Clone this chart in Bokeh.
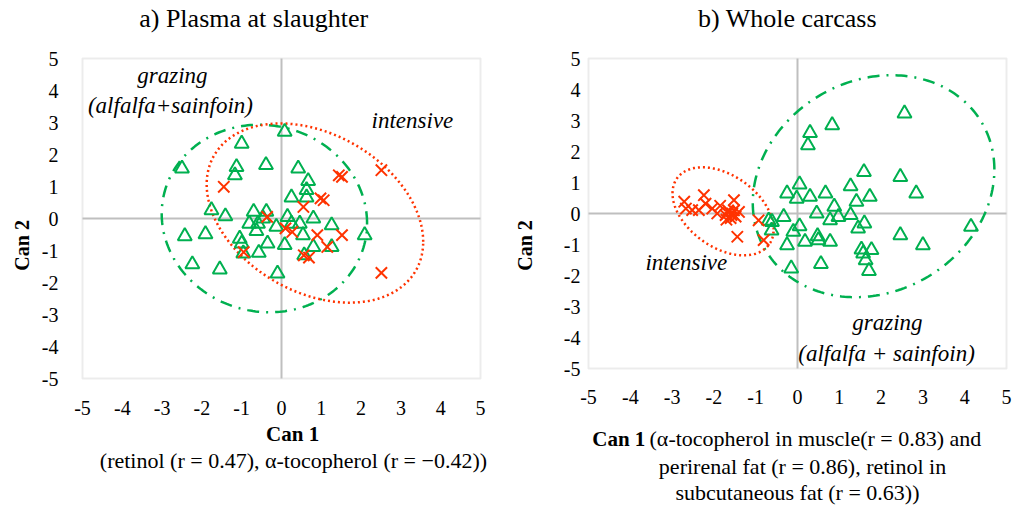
import numpy as np
from bokeh.plotting import figure
from bokeh.models import Range1d, FixedTicker, Label, BoxAnnotation
from bokeh.layouts import row
from bokeh.embed import file_html
from bokeh.resources import INLINE

GREEN = "#00B050"
RED = "#FF3300"
GRAY = "#BFBFBF"
FONT = "Liberation Serif"

ticks = [-5, -4, -3, -2, -1, 0, 1, 2, 3, 4, 5]
tick_labels = {t: str(t) for t in ticks}

# ---- a) Plasma at slaughter ----
a_graz_x = [0.08, -1.0, -2.5, -1.13, -1.17, -0.39, 0.42, 0.67, 0.63, 0.25, 0.63, -1.76, -1.41,
            -0.70, -0.38, -0.81, -0.59, -0.46, -0.63, -0.13, 0.15, 0.25, 0.46, 0.80, 1.26, 2.09,
            0.54, 0.08, -1.05, -1.0, -0.35, -0.96, -0.57, 0.80, 1.26, 0.57, -2.43, -1.91, -2.24,
            -1.55, -0.10]
a_graz_y = [2.71, 2.34, 1.56, 1.61, 1.35, 1.67, 1.56, 1.17, 0.89, 0.66, 0.66, 0.26, 0.07,
            0.21, 0.21, -0.16, -0.16, 0.0, -0.39, -0.26, 0.05, -0.16, -0.16, 0.0, -0.21, -0.52,
            -0.52, -0.83, -0.63, -0.78, -0.78, -1.09, -1.07, -0.89, -0.89, -1.15, -0.55, -0.49,
            -1.43, -1.59, -1.72]
a_int_x = [-1.45, 1.44, 1.52, 2.51, 0.98, 1.06, 0.55, -0.36, 0.10, 0.27, 0.90, 1.52, 1.15,
           0.56, 0.69, 2.51, -0.95]
a_int_y = [0.99, 1.35, 1.30, 1.51, 0.63, 0.57, 0.36, 0.05, -0.31, -0.42, -0.52, -0.52, -0.89,
           -1.15, -1.22, -1.70, -1.05]

# ---- b) Whole carcass ----
b_graz_x = [2.56, 0.83, 0.30, 0.25, 1.59, 2.46, 2.84, 0.05, -0.25, -0.02, 0.30, 0.67, 1.27,
            1.73, 1.41, 0.88, 0.46, 0.98, 0.78, 1.27, 1.60, 1.45, -0.33, -0.61, 0.05, -0.10,
            0.18, 0.48, 0.50, 0.78, -0.25, 2.46, 3.0, 4.15, 1.53, 1.77, 1.57, 1.63, 1.71, 0.56,
            -0.15, -0.69, -0.62]
b_graz_y = [3.23, 2.85, 2.60, 2.20, 1.34, 1.18, 0.65, 0.94, 0.65, 0.48, 0.54, 0.65, 0.88,
            0.54, 0.38, 0.22, 0.0, -0.11, -0.22, -0.05, -0.32, -0.48, -0.11, -0.27, -0.41, -0.59,
            -0.91, -0.73, -0.86, -0.91, -1.02, -0.70, -1.02, -0.43, -1.16, -1.18, -1.29, -1.51,
            -1.85, -1.63, -1.77, -0.23, -0.55]
b_int_x = [-2.71, -2.67, -2.52, -2.24, -2.20, -2.36, -2.04, -1.92, -1.72, -1.64, -1.56, -1.48,
           -1.60, -1.52, -1.40, -1.70, -1.52, -1.44, -0.93, -0.81, -1.85, -1.66, -1.58]
b_int_y = [0.38, 0.16, 0.11, 0.59, 0.32, 0.11, 0.16, 0.0, -0.05, 0.05, 0.0, -0.10, -0.15,
           0.10, 0.05, -0.20, 0.43, -0.75, -0.22, -0.86, 0.25, 0.10, -0.05]

# ellipse parameters: centre x, centre y, half-width x, half-height y, correlation
a_graz_ell = dict(cx=-0.43, cy=0.0, sx=2.58, sy=2.93, r=-0.05)
a_int_ell = dict(cx=0.84, cy=0.17, sx=2.72, sy=2.80, r=-0.32)
b_graz_ell = dict(cx=1.82, cy=0.88, sx=2.89, sy=3.58, r=0.15)
b_int_ell = dict(cx=-1.78, cy=0.07, sx=1.21, sy=1.42, r=-0.41)


def ellipse_xy(e, n=240):
    t = np.linspace(0, 2 * np.pi, n)
    x = e["cx"] + e["sx"] * np.cos(t)
    y = e["cy"] + e["sy"] * (e["r"] * np.cos(t) + np.sqrt(1 - e["r"] ** 2) * np.sin(t))
    return x, y


def make_fig(width, height, box_left, box_right, box_top, box_bottom, ystand, xstand):
    """box_* are pixel positions (inside this canvas) of the -5..5 square."""
    lo, hi = ticks[0], ticks[-1]
    ux = (box_right - box_left) / (hi - lo)
    uy = (box_bottom - box_top) / (hi - lo)
    x0 = lo - box_left / ux
    x1 = lo + (width - box_left) / ux
    y1 = hi + box_top / uy
    y0 = hi - (height - box_top) / uy
    p = figure(width=width, height=height, output_backend="svg", toolbar_location=None,
               x_range=Range1d(x0, x1), y_range=Range1d(y0, y1),
               min_border=0)
    p.title.visible = False
    p.xgrid.visible = False
    p.ygrid.visible = False
    p.outline_line_color = None
    p.background_fill_color = "white"
    p.border_fill_color = "white"
    for ax, st in ((p.xaxis[0], xstand), (p.yaxis[0], ystand)):
        ax.fixed_location = lo
        ax.ticker = FixedTicker(ticks=ticks)
        ax.major_label_overrides = tick_labels
        ax.axis_line_color = None
        ax.major_tick_line_color = None
        ax.minor_tick_line_color = None
        ax.major_tick_out = 0
        ax.major_tick_in = 0
        ax.minor_tick_out = 0
        ax.major_label_text_font = FONT
        ax.major_label_text_font_size = "20px"
        ax.major_label_text_color = "black"
        ax.major_label_standoff = st
    p.add_layout(BoxAnnotation(left=lo, right=hi, bottom=lo, top=hi, fill_alpha=0,
                               line_color=GRAY, line_width=2, level="underlay"))
    p.segment(x0=[0, lo], y0=[lo, 0], x1=[0, hi], y1=[hi, 0], line_color=GRAY, line_width=2)
    return p


def lab(p, x, y, text, size="22px", style="normal", align="center", angle=0):
    p.add_layout(Label(x=x, y=y, text=text, text_font=FONT, text_font_size=size,
                       text_font_style=style, text_align=align, text_baseline="middle",
                       angle=angle, text_color="black"))


def draw(p, gx, gy, ix, iy, ge, ie):
    ex, ey = ellipse_xy(ge)
    p.line(ex, ey, line_color=GREEN, line_width=2.5, line_dash="12 7 2 7")
    ex, ey = ellipse_xy(ie)
    p.line(ex, ey, line_color=RED, line_width=2.5, line_dash="2 3")
    p.scatter(gx, gy, marker="triangle", size=14, fill_color=None,
              line_color=GREEN, line_width=2)
    p.scatter(ix, iy, marker="x", size=16, line_color=RED, line_width=2)


pa = make_fig(512, 505, 82, 480, 58, 378, 24, 22)
draw(pa, a_graz_x, a_graz_y, a_int_x, a_int_y, a_graz_ell, a_int_ell)
lab(pa, -0.70, 6.25, "a) Plasma at slaughter", size="26px")
lab(pa, -6.51, -0.84, "Can 2", size="20px", style="bold", angle=np.pi / 2)
lab(pa, 0.28, -6.72, "Can 1", size="21px", style="bold")
lab(pa, 0.30, -7.56, "(retinol (r = 0.47), \u03b1-tocopherol (r = \u22120.42))")
lab(pa, -2.74, 4.47, "grazing", style="italic", size="23px")
lab(pa, -2.79, 3.53, "(alfalfa+sainfoin)", style="italic", size="23px")
lab(pa, 3.29, 3.06, "intensive", style="italic", size="23px")

pb = make_fig(505, 505, 76, 494, 58, 368, 8, 21)
draw(pb, b_graz_x, b_graz_y, b_int_x, b_int_y, b_graz_ell, b_int_ell)
lab(pb, -0.24, 6.29, "b) Whole carcass", size="26px")
lab(pb, -6.51, -1.03, "Can 2", size="20px", style="bold", angle=np.pi / 2)
lab(pb, -3.64, -7.26, "Can 1", size="21px", style="bold", align="right")
lab(pb, -3.54, -7.26, "(\u03b1-tocopherol in muscle(r = 0.83) and", align="left")
lab(pb, 0.12, -8.16, "perirenal fat (r = 0.86), retinol in")
lab(pb, 0.0, -9.0, "subcutaneous fat (r = 0.63))")
lab(pb, -2.66, -1.58, "intensive", style="italic", size="23px")
lab(pb, 2.15, -3.52, "grazing", style="italic", size="23px")
lab(pb, 2.13, -4.52, "(alfalfa + sainfoin)", style="italic", size="23px")

layout = row(pa, pb, spacing=0)
open("out.html", "w").write(file_html(layout, INLINE))
